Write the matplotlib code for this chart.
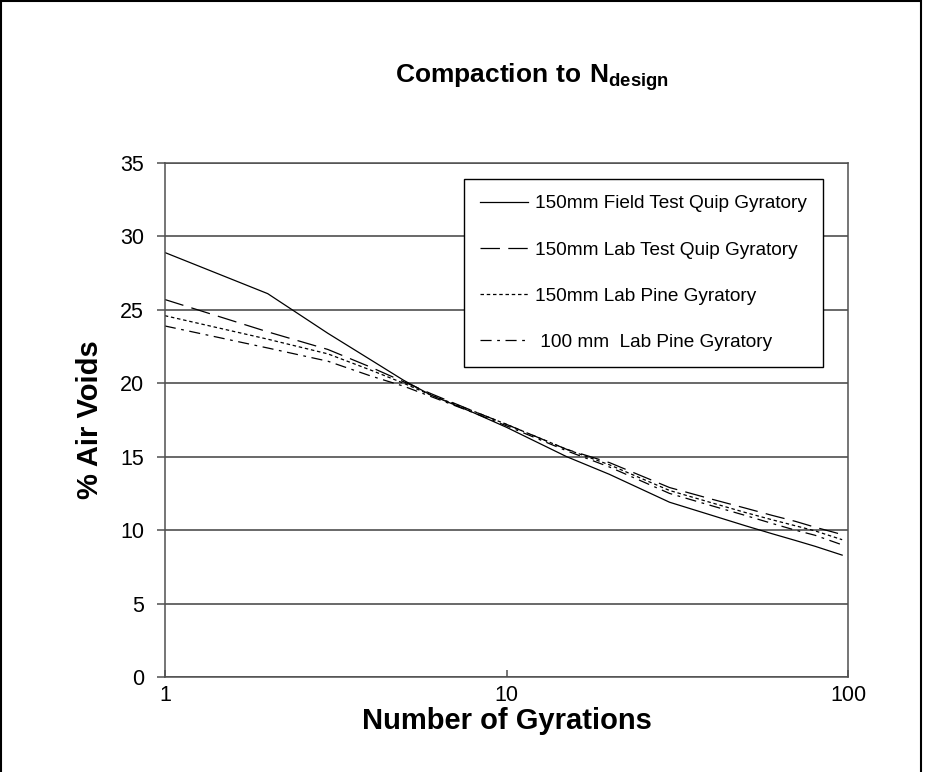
import matplotlib
matplotlib.use("Agg")
import matplotlib.pyplot as plt
from matplotlib.patches import Rectangle
from matplotlib.ticker import NullLocator, FixedLocator, FixedFormatter

plt.rcParams['font.family'] = ['Liberation Sans', 'DejaVu Sans']
plt.rcParams['mathtext.fontset'] = 'custom'
plt.rcParams['mathtext.rm'] = 'Liberation Sans'
plt.rcParams['mathtext.bf'] = 'Liberation Sans:bold'
plt.rcParams['lines.scale_dashes'] = False

# ---- data ----
gyrations = [1, 2, 3, 4, 5, 6, 8, 10, 15, 20, 30, 40, 50, 60, 70, 80, 96]
field_tq_150 = [28.9, 26.1, 23.4, 21.6, 20.2, 19.2, 18.0, 17.0, 15.0, 13.8, 11.9, 11.0, 10.3, 9.75, 9.3, 8.9, 8.3]
lab_tq_150 = [25.7, 23.5, 22.3, 21.1, 20.1, 19.3, 18.1, 17.2, 15.5, 14.6, 12.9, 12.1, 11.5, 11.0, 10.6, 10.2, 9.7]
lab_pine_150 = [24.6, 23.0, 22.0, 20.9, 20.0, 19.2, 18.1, 17.2, 15.5, 14.45, 12.7, 11.85, 11.2, 10.7, 10.3, 9.95, 9.35]
lab_pine_100 = [23.9, 22.4, 21.5, 20.5, 19.8, 19.1, 18.0, 17.1, 15.4, 14.3, 12.5, 11.65, 11.0, 10.45, 10.0, 9.65, 9.0]

labels = ["150mm Field Test Quip Gyratory",
          "150mm Lab Test Quip Gyratory",
          "150mm Lab Pine Gyratory",
          " 100 mm  Lab Pine Gyratory"]
y_ticks = [0, 5, 10, 15, 20, 25, 30, 35]
x_ticks = [1, 10, 100]
x_tick_labels = ["1", "10", "100"]

fig = plt.figure(figsize=(9.26, 7.72), dpi=100)
fig.subplots_adjust(left=0.178, right=0.916, top=0.789, bottom=0.123)
ax = fig.add_subplot(111)

grid_col = '#404040'
ax.set_xscale('log')
ax.set_xlim(1, 100)
ax.set_ylim(0, 35)
ax.yaxis.set_major_locator(FixedLocator(y_ticks))
ax.xaxis.set_major_locator(FixedLocator(x_ticks))
ax.xaxis.set_major_formatter(FixedFormatter(x_tick_labels))
ax.xaxis.set_minor_locator(NullLocator())
ax.yaxis.set_minor_locator(NullLocator())
ax.yaxis.grid(True, color=grid_col, linewidth=1.1)
ax.set_axisbelow(True)
for s in ax.spines.values():
    s.set_color('#505050')
    s.set_linewidth(1.1)

lw = 0.9
ax.plot(gyrations, field_tq_150, color='black', lw=lw, ls='-', label=labels[0])
ax.plot(gyrations, lab_tq_150, color='black', lw=lw, dashes=(14, 6), label=labels[1])
ax.plot(gyrations, lab_pine_150, color='black', lw=lw, dashes=(2.5, 2), label=labels[2])
ax.plot(gyrations, lab_pine_100, color='black', lw=lw, dashes=(8, 4, 2, 4), label=labels[3])

ax.tick_params(axis='y', direction='out', length=6, width=1.1, color='#505050',
               labelsize=15.5, pad=9)
ax.tick_params(axis='x', direction='in', length=5, width=1.1, color='#505050',
               labelsize=15.5, pad=6)

ax.set_xlabel("Number of Gyrations", fontsize=21, fontweight='bold')
ax.xaxis.set_label_coords(0.5, -0.058)
ax.set_ylabel("% Air Voids", fontsize=21, fontweight='bold')
ax.yaxis.set_label_coords(-0.089, 0.5)

leg = ax.legend(loc='upper left', bbox_to_anchor=(0.438, 0.969), fontsize=13.7,
                handlelength=2.5, handletextpad=0.35, labelspacing=1.52,
                borderpad=0.85, borderaxespad=0, fancybox=False, framealpha=1,
                edgecolor='black')
leg.get_frame().set_linewidth(1.0)

fig.text(0.575, 0.9, r'$\mathbf{Compaction\ to\ N_{design}}$', fontsize=19,
         ha='center', va='center')

fig.patches.append(Rectangle((1 / 926, -0.01), 920 / 926, 1.0085,
                             transform=fig.transFigure, fill=False,
                             edgecolor='black', linewidth=1.5))

fig.savefig("out.png", dpi=100)
